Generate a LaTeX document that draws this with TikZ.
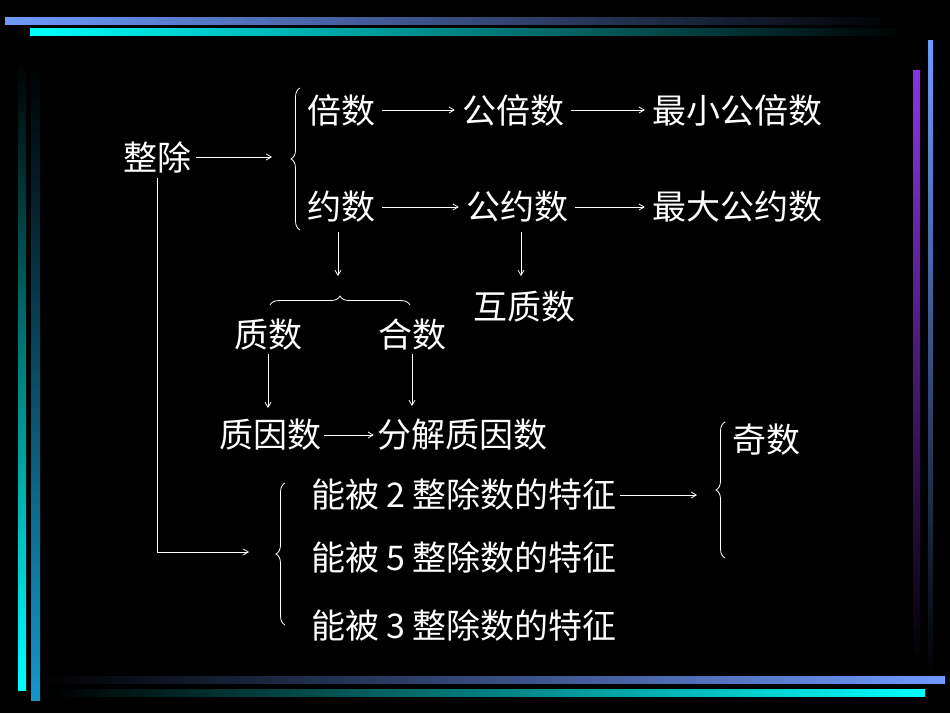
\documentclass[tikz,border=0pt]{standalone}
\usepackage{fontspec}
\setmainfont{Noto Sans CJK SC}
\usetikzlibrary{decorations.pathreplacing,arrows.meta}
\begin{document}
\begin{tikzpicture}[x=1pt,y=-1pt,
  lab/.style={text=white,font=\fontsize{34}{38}\selectfont,inner sep=1pt},
  arr/.style={draw=white,line width=0.8pt,-{Straight Barb[length=5pt,width=6pt]},shorten <=6pt,shorten >=6pt},
  br/.style={draw=white,line width=0.8pt,decorate,decoration={brace,amplitude=9pt}}]
\fill[black] (0,0) rectangle (950,713);
\useasboundingbox (0,0) rectangle (950,713);
% decorative bars
\shade[left color={rgb,255:red,110;green,155;blue,255},right color=black] (5,17) rectangle (900,24);
\shade[left color=cyan,right color=black] (30,28) rectangle (905,35);
\shade[top color={rgb,255:red,110;green,155;blue,255},bottom color=black] (928,40) rectangle (933,680);
\shade[top color={rgb,255:red,140;green,50;blue,230},bottom color=black] (913,70) rectangle (920,670);
\shade[top color=black,bottom color=cyan] (18,60) rectangle (26,690);
\shade[top color=black,bottom color={rgb,255:red,20;green,150;blue,200}] (31,60) rectangle (40,700);
\shade[left color=black,right color={rgb,255:red,110;green,155;blue,255}] (45,676) rectangle (945,683);
\shade[left color=black,right color=cyan] (50,689) rectangle (925,696);
% nodes
\node[lab] (zc) at (157,157) {整除};
\node[lab] (bs) at (341,110) {倍数};
\node[lab] (gbs) at (513,110) {公倍数};
\node[lab] (zxgbs) at (737,110) {最小公倍数};
\node[lab] (ys) at (341,207) {约数};
\node[lab] (gys) at (517,207) {公约数};
\node[lab] (zdgys) at (737,207) {最大公约数};
\node[lab] (zs) at (268,335) {质数};
\node[lab] (hs) at (412,335) {合数};
\node[lab] (hzs) at (524,307) {互质数};
\node[lab] (zys) at (270,435) {质因数};
\node[lab] (fj) at (462,435) {分解质因数};
\node[lab] (js) at (766,440) {奇数};
\node[lab] (n2) at (464,495) {能被\hspace{7pt}2\hspace{7pt}整除数的特征};
\node[lab] (n5) at (464,557) {能被\hspace{7pt}5\hspace{7pt}整除数的特征};
\node[lab] (n3) at (464,625) {能被\hspace{7pt}3\hspace{7pt}整除数的特征};
\coordinate (b1) at (272,157);
\coordinate (b2) at (249,552);
\coordinate (c1) at (338,232);
\coordinate (c2) at (338,276);
\coordinate (d1) at (521,232);
\coordinate (d2) at (521,276);
\coordinate (e2) at (697,490);
% arrows
\draw[arr,shorten <=4pt,shorten >=0pt] (zc.east) -- (b1);
\draw[arr] (bs.east) -- (gbs.west);
\draw[arr] (gbs.east) -- (zxgbs.west);
\draw[arr] (ys.east) -- (gys.west);
\draw[arr] (gys.east) -- (zdgys.west);
\draw[arr,shorten <=0pt,shorten >=0pt] (c1) -- (c2);
\draw[arr,shorten <=0pt,shorten >=0pt] (d1) -- (d2);
\draw[arr,shorten <=2pt,shorten >=0pt] (zs.south) -- (zs.south |- 0,408);
\draw[arr,shorten <=2pt,shorten >=0pt] (hs.south) -- (hs.south |- 0,406);
\draw[arr,shorten <=2pt,shorten >=2pt] (zys.east) -- (fj.west);
\draw[arr,shorten <=4pt,shorten >=0pt] (zc.south) |- (b2);
\draw[arr,shorten <=2pt,shorten >=0pt] (n2.east) -- (n2.east -| e2);
% braces
\draw[br] (300,230) -- (300,88);
\draw[br] (270,305) -- (410,305);
\draw[br] (285,625) -- (285,483);
\draw[br] (725,558) -- (725,422);
\end{tikzpicture}
\end{document}
